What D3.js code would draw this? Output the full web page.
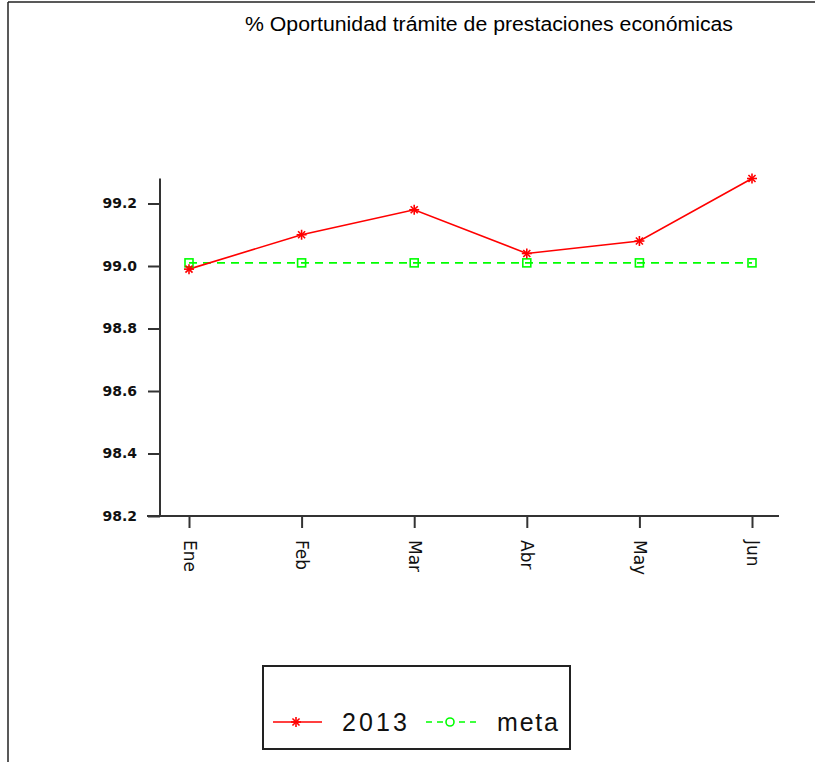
<!DOCTYPE html>
<html>
<head>
<meta charset="utf-8">
<script src="https://cdn.jsdelivr.net/npm/d3@7"></script>
<style>
  html, body { margin: 0; padding: 0; background: #fff; }
  svg { display: block; }
</style>
</head>
<body>
<script>
const title = "% Oportunidad trámite de prestaciones económicas";
const months = ["Ene", "Feb", "Mar", "Abr", "May", "Jun"];
const values2013 = [98.99, 99.10, 99.18, 99.04, 99.08, 99.28];
const valuesMeta = [99.01, 99.01, 99.01, 99.01, 99.01, 99.01];
const yTicks = [98.2, 98.4, 98.6, 98.8, 99.0, 99.2];
const seriesNames = ["2013", "meta"];

const W = 815, H = 762;
const svg = d3.select("body").append("svg").attr("width", W).attr("height", H);

// outer frame (left and top edges visible)
svg.append("line").attr("x1", 8).attr("y1", 2).attr("x2", 8).attr("y2", H).attr("stroke", "#222").attr("stroke-width", 1.5);
svg.append("line").attr("x1", 8).attr("y1", 2).attr("x2", W).attr("y2", 2).attr("stroke", "#222").attr("stroke-width", 1.5);

svg.append("text").attr("x", 489).attr("y", 31).attr("text-anchor", "middle")
  .attr("font-family", "Liberation Sans, Arial, sans-serif").attr("font-size", 20)
  .attr("textLength", 488).attr("lengthAdjust", "spacingAndGlyphs")
  .attr("fill", "#000").text(title);

const x = d3.scalePoint().domain(months).range([189, 752]);
const y = d3.scaleLinear().domain([98.2, 99.2]).range([516, 203.5]);
const yTop = y(d3.max(values2013));

const axisColor = "#333";
// y axis
const gy = svg.append("g").attr("transform", "translate(160,0)")
  .call(d3.axisLeft(y).tickValues(yTicks).tickSize(12).tickPadding(11).tickFormat(d3.format(".1f")));
gy.select(".domain").remove();
gy.selectAll(".tick line").attr("stroke", axisColor).attr("stroke-width", 2);
gy.selectAll(".tick text").attr("font-family", "DejaVu Sans, sans-serif").attr("font-size", 14)
  .attr("font-weight", "bold").attr("fill", "#111");
svg.append("line").attr("x1", 160).attr("x2", 160).attr("y1", yTop).attr("y2", y(98.2) + 1)
  .attr("stroke", axisColor).attr("stroke-width", 2);

// x axis
const gx = svg.append("g").attr("transform", "translate(0,516)")
  .call(d3.axisBottom(x).tickSize(12).tickPadding(0));
gx.select(".domain").remove();
gx.selectAll(".tick line").attr("stroke", axisColor).attr("stroke-width", 2);
gx.selectAll(".tick text")
  .attr("font-family", "DejaVu Sans, sans-serif").attr("font-size", 17).attr("fill", "#111")
  .attr("text-anchor", "start").attr("transform", "translate(0,24) rotate(90)")
  .attr("x", 0).attr("y", 0).attr("dy", "0.35em");
svg.append("line").attr("x1", 147).attr("x2", 779).attr("y1", 516).attr("y2", 516)
  .attr("stroke", axisColor).attr("stroke-width", 2);

// lines
const lineGen = d3.line().x((d, i) => x(months[i])).y(d => y(d));
svg.append("path").datum(valuesMeta).attr("d", lineGen).attr("fill", "none")
  .attr("stroke", "#00ff00").attr("stroke-width", 1.6).attr("stroke-dasharray", "8,6");
svg.append("path").datum(values2013).attr("d", lineGen).attr("fill", "none")
  .attr("stroke", "#ff0000").attr("stroke-width", 1.6);

// markers
const sq = 8;
svg.selectAll(".mMeta").data(valuesMeta).enter().append("rect")
  .attr("x", (d, i) => x(months[i]) - sq / 2).attr("y", d => y(d) - sq / 2)
  .attr("width", sq).attr("height", sq).attr("fill", "none")
  .attr("stroke", "#00ff00").attr("stroke-width", 1.6);

function star(g, cx, cy, r, color) {
  const a = [0, 45, 90, 135];
  a.forEach(deg => {
    const rad = deg * Math.PI / 180;
    g.append("line").attr("x1", cx - r * Math.cos(rad)).attr("y1", cy - r * Math.sin(rad))
      .attr("x2", cx + r * Math.cos(rad)).attr("y2", cy + r * Math.sin(rad))
      .attr("stroke", color).attr("stroke-width", 1.6);
  });
}
const gs = svg.append("g");
values2013.forEach((v, i) => star(gs, x(months[i]), y(v), 5, "#ff0000"));

// legend
svg.append("rect").attr("x", 263).attr("y", 666).attr("width", 307).attr("height", 83)
  .attr("fill", "none").attr("stroke", "#222").attr("stroke-width", 2);
const ly = 722;
svg.append("line").attr("x1", 273).attr("x2", 322).attr("y1", ly).attr("y2", ly)
  .attr("stroke", "#ff0000").attr("stroke-width", 1.6);
star(svg, 296, ly, 5, "#ff0000");
svg.append("text").attr("x", 342).attr("y", ly + 9).attr("font-family", "Liberation Sans, Arial, sans-serif")
  .attr("font-size", 25).attr("textLength", 65).attr("fill", "#111").text(seriesNames[0]);
svg.append("line").attr("x1", 426).attr("x2", 477).attr("y1", ly).attr("y2", ly)
  .attr("stroke", "#00ff00").attr("stroke-width", 1.6).attr("stroke-dasharray", "6,5");
svg.append("circle").attr("cx", 450).attr("cy", ly).attr("r", 4).attr("fill", "#fff")
  .attr("stroke", "#00ff00").attr("stroke-width", 1.6);
svg.append("text").attr("x", 497).attr("y", ly + 9).attr("font-family", "Liberation Sans, Arial, sans-serif")
  .attr("font-size", 25).attr("textLength", 61).attr("fill", "#111").text(seriesNames[1]);
</script>
</body>
</html>
